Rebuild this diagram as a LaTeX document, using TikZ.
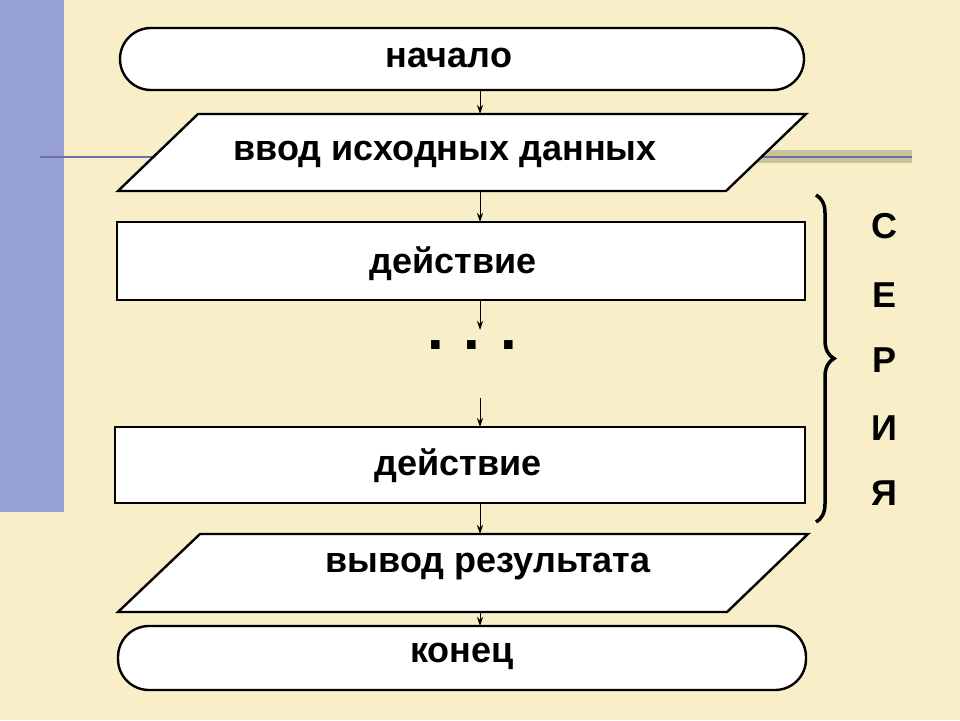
\documentclass[tikz,border=0pt]{standalone}
\usepackage{fontspec}
\setmainfont{Liberation Sans}
\usetikzlibrary{decorations.pathreplacing,arrows.meta}
\definecolor{bgc}{RGB}{248,238,200}
\definecolor{barc}{RGB}{150,160,210}
\definecolor{bandc}{RGB}{200,196,150}
\definecolor{linec}{RGB}{110,110,170}
\begin{document}
\begin{tikzpicture}[x=1pt,y=-1pt,
  shp/.style={draw=black,line width=2.4pt,fill=white},
  lbl/.style={font=\bfseries\fontsize{36}{40}\selectfont},
  arr/.style={-{Stealth[length=9pt,width=6pt]},line width=0.8pt}]
\useasboundingbox (0,0) rectangle (960,720);
\fill[bgc] (0,0) rectangle (960,720);
\fill[barc] (0,0) rectangle (64,512);
\fill[bandc] (720,150) rectangle (912,163);
\draw[linec,line width=1.5pt] (40,157) -- (912,157);
% shapes
\draw[shp,rounded corners=31pt] (120,28) rectangle (804,90);
\node[lbl] (start) at (449,58) {начало};
\draw[shp] (198,114) -- (806,114) -- (726,191) -- (118,191) -- cycle;
\node[lbl] (in) at (445,154) {ввод исходных данных};
\draw[shp] (117,222) rectangle (805,300);
\node[lbl] (a1) at (453,264) {действие};
\node[font=\bfseries\fontsize{60}{60}\selectfont] (dots) at (472,345) {.\,\,.\,\,.};
\draw[shp] (115,427) rectangle (805,503);
\node[lbl] (a2) at (458,466) {действие};
\draw[shp] (200,534) -- (808,534) -- (727,612) -- (118,612) -- cycle;
\node[lbl] (out) at (488,567) {вывод результата};
\draw[shp,rounded corners=31pt] (118,626) rectangle (806,690);
\node[lbl] (end) at (462,656) {конец};
% arrows
\coordinate (p1) at (480,90); \coordinate (q1) at (480,114);
\coordinate (p2) at (480,191); \coordinate (q2) at (480,222);
\coordinate (p3) at (480,300); \coordinate (q3) at (480,330);
\coordinate (p4) at (480,398); \coordinate (q4) at (480,427);
\coordinate (p5) at (480,503); \coordinate (q5) at (480,534);
\coordinate (p6) at (480,612); \coordinate (q6) at (480,626);
\foreach \i in {1,...,6}{\draw[arr] (p\i) -- (q\i);}
% brace
\draw[line width=3.5pt,decorate,decoration={brace,amplitude=18pt}] (816,195) -- (816,522);
\foreach \t/\y in {С/226,Е/295,Р/360,И/428,Я/493}{\node[lbl] at (884,\y) {\t};}
\end{tikzpicture}
\end{document}
